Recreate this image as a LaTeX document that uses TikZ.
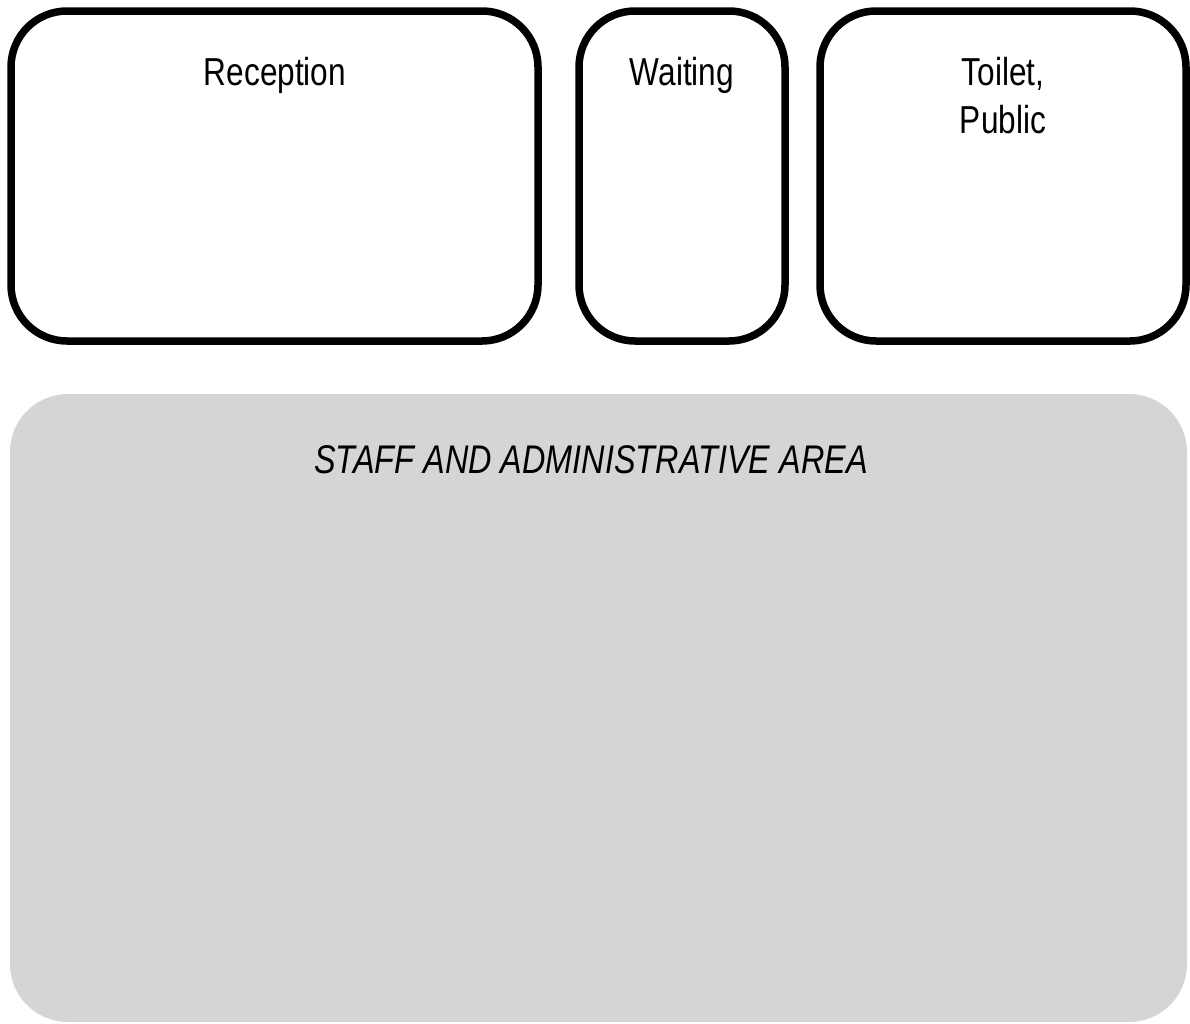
\documentclass[tikz,border=0pt]{standalone}
\usepackage{fontspec}
\setmainfont{Liberation Sans}[FakeStretch=0.81]
\begin{document}
\begin{tikzpicture}[x=1pt,y=-1pt,
  roombox/.style={draw=black, line width=7.5pt, rounded corners=56pt, inner sep=0pt, fill=white},
  areabox/.style={fill=areagray, draw=none, rounded corners=58pt, inner sep=0pt},
  lbl/.style={font=\fontsize{39}{48}\selectfont, anchor=base, inner sep=0pt, align=center},
  ilbl/.style={font=\fontsize{40}{48}\selectfont\itshape, anchor=base, inner sep=0pt}]
\definecolor{areagray}{HTML}{D5D5D5}
\useasboundingbox (0,0) rectangle (1190,1023);
\node[roombox, minimum width=527pt, minimum height=330pt] (reception) at (274.5,176) {};
\node[roombox, minimum width=206pt, minimum height=330pt] (waiting) at (682,176) {};
\node[roombox, minimum width=366pt, minimum height=330pt] (toilet) at (1003,176) {};
\node[areabox, minimum width=1177pt, minimum height=628pt] (staff) at (598.5,708) {};
\node[lbl] (receptionlbl) at (275,85) {Reception};
\node[lbl] (waitinglbl) at (682,85) {Waiting};
\node[lbl] (toiletlbl1) at (1003,85) {Toilet,};
\node[lbl] (toiletlbl2) at (1003,133) {Public};
\node[ilbl] (stafflbl) at (591,473) {STAFF AND ADMINISTRATIVE AREA};
\end{tikzpicture}
\end{document}
